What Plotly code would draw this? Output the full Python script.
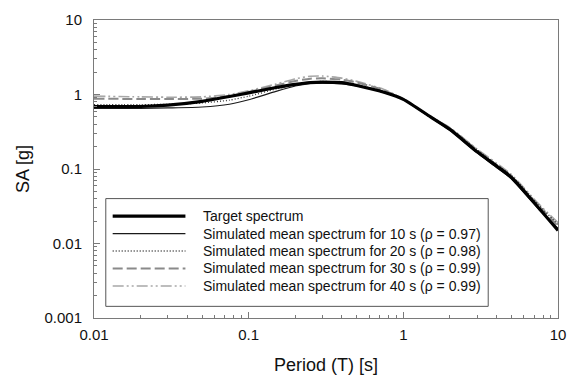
import plotly.graph_objects as go

# Response spectra: periods [s] and spectral accelerations [g]
periods = [0.01, 0.02, 0.03, 0.05, 0.075, 0.1, 0.15, 0.2, 0.25, 0.3, 0.4, 0.5,
           0.75, 1.0, 1.5, 2.0, 3.0, 4.0, 5.0, 7.5, 10.0]

sa_target = [0.69, 0.69, 0.72, 0.81, 0.94, 1.05, 1.24, 1.37, 1.45, 1.47, 1.44, 1.32,
             1.07, 0.86, 0.50, 0.34, 0.17, 0.11, 0.077, 0.030, 0.015]
sa_10s = [0.65, 0.65, 0.66, 0.68, 0.74, 0.85, 1.10, 1.30, 1.40, 1.42, 1.39, 1.30,
          1.06, 0.86, 0.49, 0.33, 0.165, 0.105, 0.074, 0.029, 0.016]
sa_20s = [0.73, 0.73, 0.74, 0.77, 0.84, 0.95, 1.18, 1.36, 1.46, 1.50, 1.46, 1.36,
          1.09, 0.86, 0.50, 0.35, 0.18, 0.115, 0.082, 0.033, 0.018]
sa_30s = [0.88, 0.87, 0.87, 0.88, 0.95, 1.08, 1.32, 1.52, 1.63, 1.65, 1.58, 1.45,
          1.14, 0.86, 0.50, 0.35, 0.18, 0.114, 0.080, 0.032, 0.017]
sa_40s = [0.95, 0.93, 0.92, 0.93, 1.00, 1.12, 1.38, 1.62, 1.76, 1.77, 1.66, 1.50,
          1.17, 0.87, 0.51, 0.36, 0.185, 0.12, 0.084, 0.034, 0.019]

labels = [
    "Target spectrum",
    "Simulated mean spectrum for 10 s (\u03c1 = 0.97)",
    "Simulated mean spectrum for 20 s (\u03c1 = 0.98)",
    "Simulated mean spectrum for 30 s (\u03c1 = 0.99)",
    "Simulated mean spectrum for 40 s (\u03c1 = 0.99)",
]
series = [sa_target, sa_10s, sa_20s, sa_30s, sa_40s]

x_ticks = [0.01, 0.1, 1, 10]
x_ticktext = ["0.01", "0.1", "1", "10"]
y_ticks = [0.001, 0.01, 0.1, 1, 10]
y_ticktext = ["0.001", "0.01", "0.1", "1", "10"]

styles = [
    dict(color="#000000", width=3.2, dash="solid"),
    dict(color="#1a1a1a", width=1.2, dash="solid"),
    dict(color="#333333", width=1.3, dash="1px,2px"),
    dict(color="#8a8a8a", width=2.0, dash="10px,4px"),
    dict(color="#a8a8a8", width=1.6, dash="11px,3px,2px,3px,2px,3px"),
]

W, H = 577, 387
ML, MR, MT, MB = 94, 11, 11, 69
PW, PH = W - ML - MR, H - MT - MB

def px_x(p):
    return (p - ML) / PW

def px_y(p):
    return (H - MB - p) / PH

fig = go.Figure()
# draw lighter curves first so the target stays on top
for i in [4, 3, 2, 1, 0]:
    fig.add_trace(go.Scatter(
        x=periods, y=series[i], mode="lines", name=labels[i],
        line=dict(shape="spline", smoothing=0.6, **styles[i]),
        showlegend=False, hoverinfo="x+y+name",
    ))

def minor_vals(lo, hi):
    vals = []
    d = lo
    while d < hi:
        vals += [d * k for k in range(2, 10)]
        d *= 10
    return vals

axis_common = dict(
    type="log", showgrid=False, zeroline=False,
    showline=True, linecolor="#7a7a7a", linewidth=1, mirror=True,
    ticks="inside", ticklen=6, tickcolor="#7a7a7a", tickwidth=1,
    tickmode="array",
    tickfont=dict(family="Liberation Sans, Arial, sans-serif", size=15, color="#111"),
    title_font=dict(family="Liberation Sans, Arial, sans-serif", size=18, color="#111"),
)

fig.update_xaxes(
    **axis_common, range=[-2, 1], tickvals=x_ticks, ticktext=x_ticktext,
    minor=dict(tickvals=minor_vals(0.01, 10), ticks="inside", ticklen=3,
               tickcolor="#7a7a7a", tickwidth=1),
    title_text="Period (T) [s]", title_standoff=16, ticklabelstandoff=3,
)
fig.update_yaxes(
    **axis_common, range=[-3, 1], tickvals=y_ticks, ticktext=y_ticktext,
    minor=dict(tickvals=minor_vals(0.001, 10), ticks="inside", ticklen=3,
               tickcolor="#7a7a7a", tickwidth=1),
    title_text="SA [g]", title_standoff=10, ticklabelstandoff=8,
)

# legend box drawn with shapes so the sample lines are long
box = dict(x0=106, x1=495, y0=195, y1=306)
fig.add_shape(type="rect", xref="paper", yref="paper",
              x0=px_x(box["x0"]), x1=px_x(box["x1"]),
              y0=px_y(box["y1"]), y1=px_y(box["y0"]),
              line=dict(color="#555555", width=1), fillcolor="white", layer="above")
row_y = [213, 231, 249, 267, 285]
for i, yy in enumerate(row_y):
    fig.add_shape(type="line", xref="paper", yref="paper",
                  x0=px_x(113), x1=px_x(187), y0=px_y(yy), y1=px_y(yy),
                  line=styles[i], layer="above")
    fig.add_annotation(xref="paper", yref="paper", x=px_x(203), y=px_y(yy),
                       text=labels[i], showarrow=False, xanchor="left", yanchor="middle",
                       font=dict(family="Liberation Sans, Arial, sans-serif", size=14,
                                 color="#111"))

fig.update_layout(
    width=W, height=H,
    margin=dict(l=ML, r=MR, t=MT, b=MB),
    paper_bgcolor="white", plot_bgcolor="white",
    showlegend=False,
)

fig.write_html("out.html")
